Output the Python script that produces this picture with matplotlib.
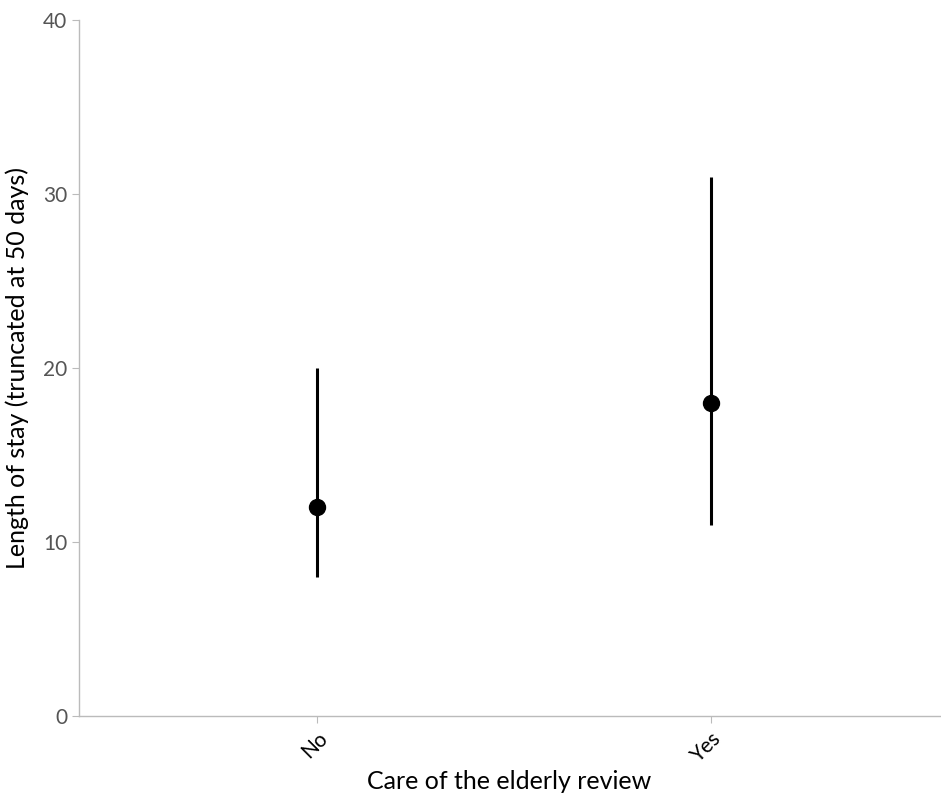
import numpy as np
import matplotlib.pyplot as plt

plt.rcParams['font.family'] = ['Lato', 'DejaVu Sans']

categories = ['No', 'Yes']
centre = [12, 18]
lower = [8, 11]
upper = [20, 31]

fig = plt.figure(figsize=(9.41, 8), dpi=100)
ax = fig.add_axes([79/941, 1-716/800, (940-79)/941, (716-20)/800])

x = np.arange(len(categories))
c = np.array(centre)
yerr = [c - np.array(lower), np.array(upper) - c]
ax.errorbar(x, c, yerr=yerr, fmt='o', color='black', ecolor='black',
            elinewidth=2.2, markersize=11.5, capsize=0)

ax.set_ylim(0, 40)
ax.set_yticks([0, 10, 20, 30, 40])
ax.set_xlim(-0.604, 1.581)
ax.set_xticks(x)
ax.set_xticklabels(categories, rotation=45, ha='right', rotation_mode='anchor')

for s in ['top', 'right']:
    ax.spines[s].set_visible(False)
for s in ['left', 'bottom']:
    ax.spines[s].set_color('#bbbbbb')
    ax.spines[s].set_linewidth(1)
ax.tick_params(axis='y', colors='#bbbbbb', labelcolor='#555555', labelsize=15, length=5)
ax.tick_params(axis='x', colors='#bbbbbb', labelcolor='black', labelsize=15, length=5)

ax.set_xlabel('Care of the elderly review', fontsize=18, labelpad=3)
ax.set_ylabel('Length of stay (truncated at 50 days)', fontsize=18, labelpad=10)

fig.savefig('out.png', dpi=100)
